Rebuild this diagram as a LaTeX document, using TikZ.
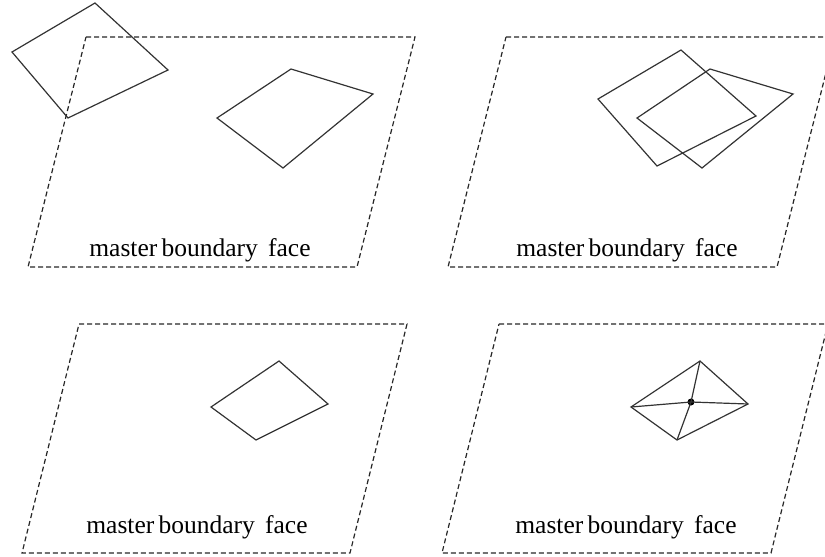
\documentclass[tikz,border=0pt]{standalone}
\usepackage{fontspec}
\setmainfont{Liberation Serif}
\begin{document}
\begin{tikzpicture}[x=1pt,y=-1pt,
  plane/.style={draw=black!85,line width=1.2pt,dash pattern=on 5pt off 3pt},
  quad/.style={draw=black!80,line width=1.2pt,line join=miter},
  lbl/.style={anchor=base,inner sep=0pt,font=\fontsize{25.5}{30}\selectfont},
  cdot/.style={circle,fill=black,inner sep=0pt,minimum size=7pt}]
\clip (0,0) rectangle (825,557);
\useasboundingbox (0,0) rectangle (825,557);

% Panel 1
\coordinate (p1a) at (86,37); \coordinate (p1b) at (415,37);
\coordinate (p1c) at (357,267); \coordinate (p1d) at (28,267);
\draw[plane] (p1a) -- (p1b) -- (p1c) -- (p1d) -- cycle;
\coordinate (q1a) at (95,3); \coordinate (q1b) at (168,70);
\coordinate (q1c) at (68,118); \coordinate (q1d) at (12,52);
\draw[quad] (q1a) -- (q1b) -- (q1c) -- (q1d) -- cycle;
\coordinate (r1a) at (291,69); \coordinate (r1b) at (373,94);
\coordinate (r1c) at (283,168); \coordinate (r1d) at (217,118);
\draw[quad] (r1a) -- (r1b) -- (r1c) -- (r1d) -- cycle;
\node[lbl] (t1) at (200,256) {master\hspace{0.17em}boundary\hspace{0.4em}face};

% Panel 2
\coordinate (p2a) at (506,37); \coordinate (p2b) at (835,37);
\coordinate (p2c) at (777,267); \coordinate (p2d) at (448,267);
\draw[plane] (p2a) -- (p2b) -- (p2c) -- (p2d) -- cycle;
\coordinate (q2a) at (681,50); \coordinate (q2b) at (756,116);
\coordinate (q2c) at (657,166); \coordinate (q2d) at (598,99);
\draw[quad] (q2a) -- (q2b) -- (q2c) -- (q2d) -- cycle;
\coordinate (r2a) at (710,69); \coordinate (r2b) at (793,94);
\coordinate (r2c) at (702,168); \coordinate (r2d) at (637,118);
\draw[quad] (r2a) -- (r2b) -- (r2c) -- (r2d) -- cycle;
\node[lbl] (t2) at (627,256) {master\hspace{0.17em}boundary\hspace{0.4em}face};

% Panel 3
\coordinate (p3a) at (79,324); \coordinate (p3b) at (407,324);
\coordinate (p3c) at (350,553); \coordinate (p3d) at (22,553);
\draw[plane] (p3a) -- (p3b) -- (p3c) -- (p3d) -- cycle;
\coordinate (r3a) at (279,361); \coordinate (r3b) at (328,404);
\coordinate (r3c) at (256,440); \coordinate (r3d) at (211,407);
\draw[quad] (r3a) -- (r3b) -- (r3c) -- (r3d) -- cycle;
\node[lbl] (t3) at (197,533) {master\hspace{0.17em}boundary\hspace{0.4em}face};

% Panel 4
\coordinate (p4a) at (499,324); \coordinate (p4b) at (828,324);
\coordinate (p4c) at (771,553); \coordinate (p4d) at (442,553);
\draw[plane] (p4a) -- (p4b) -- (p4c) -- (p4d) -- cycle;
\coordinate (r4a) at (700,361); \coordinate (r4b) at (748,404);
\coordinate (r4c) at (677,440); \coordinate (r4d) at (631,407);
\draw[quad] (r4a) -- (r4b) -- (r4c) -- (r4d) -- cycle;
\node[cdot] (c4) at (691,402) {};
\draw[quad] (r4a) -- (c4.center) (r4b) -- (c4.center) (r4c) -- (c4.center) (r4d) -- (c4.center);
\node[lbl] (t4) at (626,533) {master\hspace{0.17em}boundary\hspace{0.4em}face};
\end{tikzpicture}
\end{document}
